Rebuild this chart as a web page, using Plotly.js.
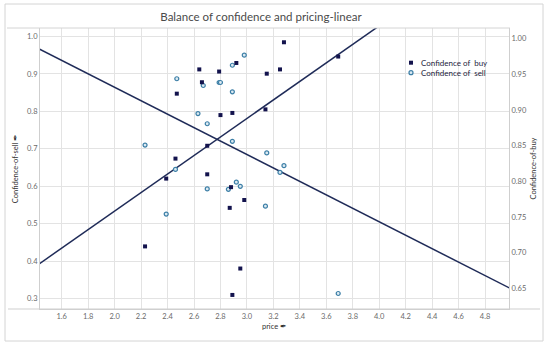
<!DOCTYPE html>
<html>
<head>
<meta charset="utf-8">
<script src="https://cdn.plot.ly/plotly-3.0.1.min.js"></script>
<style>html,body{margin:0;padding:0;background:#fff;}#chart{width:550px;height:347px;}</style>
</head>
<body>
<div id="chart"></div>
<script>
// Confidence of buy (right axis) vs price
const priceBuy = [3.28, 2.92, 2.79, 3.15, 3.25, 2.66, 2.64, 2.47, 2.80, 2.89, 3.14, 2.70, 2.46, 2.39, 2.70, 2.88, 2.98, 2.87, 2.23, 2.95, 2.89, 3.69];
const confBuy  = [0.995, 0.966, 0.954, 0.951, 0.957, 0.939, 0.957, 0.923, 0.893, 0.896, 0.901, 0.850, 0.832, 0.804, 0.810, 0.792, 0.774, 0.763, 0.709, 0.678, 0.641, 0.975];
// Confidence of sell (left axis) vs price
const priceSell = [2.98, 2.89, 2.79, 2.80, 2.67, 2.89, 2.70, 2.63, 2.47, 2.23, 2.46, 2.39, 2.89, 3.15, 3.28, 3.25, 2.70, 2.86, 2.92, 2.95, 3.14, 3.69];
const confSell  = [0.950, 0.923, 0.877, 0.877, 0.869, 0.852, 0.767, 0.794, 0.887, 0.710, 0.645, 0.526, 0.720, 0.689, 0.655, 0.637, 0.593, 0.592, 0.611, 0.600, 0.547, 0.314];
// Linear trend lines (left axis scale)
const trendX = [1.3, 5.1];
const trendDown = [0.990, 0.308];
const trendUp = [0.361, 1.300];
const seriesNames = ['Confidence of  buy', 'Confidence of  sell'];

const xTickStart = 1.6, xTickStep = 0.2;
const navy = '#13134d';
const lineCol = '#1f2b58';
const ringCol = '#3b7ea6';
const ringFill = '#dceaf2';

const traces = [
  {x: trendX, y: trendDown, mode: 'lines', line: {color: lineCol, width: 1.5}, showlegend: false, hoverinfo: 'skip'},
  {x: trendX, y: trendUp, mode: 'lines', line: {color: lineCol, width: 1.5}, showlegend: false, hoverinfo: 'skip'},
  {x: priceBuy, y: confBuy, yaxis: 'y2', mode: 'markers', name: seriesNames[0], showlegend: false,
   marker: {symbol: 'square', size: 4, color: navy, line: {width: 0}}},
  {x: priceSell, y: confSell, mode: 'markers', name: seriesNames[1], showlegend: false,
   marker: {symbol: 'circle', size: 4, color: ringFill, line: {color: ringCol, width: 1.2}}}
];

function px2paperX(p){ return (p - 40) / 469; }
function px2paperY(p){ return (309 - p) / 281; }

// legend key (drawn as small shapes + text)
const legRows = [62.7, 72.7];
const legX = 411;

const layout = {
  width: 550, height: 347,
  margin: {l: 40, r: 41, t: 28, b: 38, pad: 0},
  paper_bgcolor: '#ffffff', plot_bgcolor: '#ffffff',
  font: {family: 'Lato, "Open Sans", sans-serif', color: '#666', size: 8},
  title: {text: 'Balance of confidence and pricing-linear', font: {family: 'Lato, "Open Sans", sans-serif', size: 11.5, color: '#4a4a4a'},
          xref: 'container', x: 0.4745, xanchor: 'center', yref: 'container', y: 1 - 16.7/347, yanchor: 'middle'},
  xaxis: {range: [1.436, 4.981], tick0: xTickStart, dtick: xTickStep, tickformat: '.1f', showgrid: true, gridcolor: '#e3e3e3', gridwidth: 1,
          zeroline: false, showline: true, linecolor: '#cfcfcf', ticks: '', tickfont: {size: 7.5, color: '#6a6a6a'},
          title: {text: 'price ✒', font: {size: 7.5, color: '#333'}, standoff: 3}, automargin: false},
  yaxis: {range: [0.2727, 1.0224], dtick: 0.1, tick0: 0.3, tickformat: '.1f', showgrid: true, gridcolor: '#e3e3e3', gridwidth: 1,
          zeroline: false, showline: true, linecolor: '#cfcfcf', ticks: '', tickfont: {size: 7.5, color: '#6a6a6a'},
          title: {text: 'Confidence-of-sell ✒', font: {size: 7.5, color: '#333'}, standoff: 7}, automargin: false},
  yaxis2: {overlaying: 'y', side: 'right', range: [0.6213, 1.015], dtick: 0.05, tick0: 0.65, tickformat: '.2f', showgrid: false,
          zeroline: false, showline: true, linecolor: '#cfcfcf', ticks: '', tickfont: {size: 7.5, color: '#6a6a6a'},
          title: {text: 'Confidence-of-buy', font: {size: 7.5, color: '#333'}, standoff: 4}, automargin: false},
  shapes: [
    {type: 'rect', xref: 'paper', yref: 'paper', x0: px2paperX(5), x1: px2paperX(543), y0: px2paperY(341), y1: px2paperY(4),
     line: {color: '#d4d4d4', width: 1}, fillcolor: 'rgba(0,0,0,0)', layer: 'below'},
    {type: 'line', xref: 'paper', yref: 'paper', x0: px2paperX(7), x1: px2paperX(510), y0: 1, y1: 1, line: {color: '#d4d4d4', width: 1}},
    {type: 'line', xref: 'paper', yref: 'paper', x0: px2paperX(8), x1: px2paperX(540), y0: 0, y1: 0, line: {color: '#cfcfcf', width: 1}},
    {type: 'rect', xref: 'paper', yref: 'paper', x0: px2paperX(legX - 2), x1: px2paperX(legX + 2), y0: px2paperY(legRows[0] + 2), y1: px2paperY(legRows[0] - 2),
     line: {width: 0}, fillcolor: navy},
    {type: 'circle', xref: 'paper', yref: 'paper', x0: px2paperX(legX - 2), x1: px2paperX(legX + 2), y0: px2paperY(legRows[1] + 2), y1: px2paperY(legRows[1] - 2),
     line: {color: ringCol, width: 1.2}, fillcolor: ringFill}
  ],
  annotations: seriesNames.map((n, i) => ({
    text: n, xref: 'paper', yref: 'paper', x: px2paperX(legX + 8), y: px2paperY(legRows[i]), xanchor: 'left', yanchor: 'middle',
    showarrow: false, font: {size: 8, color: '#1c1c3c'}
  })),
  showlegend: false
};

Plotly.newPlot('chart', traces, layout, {staticPlot: true, displayModeBar: false});
</script>
</body>
</html>
